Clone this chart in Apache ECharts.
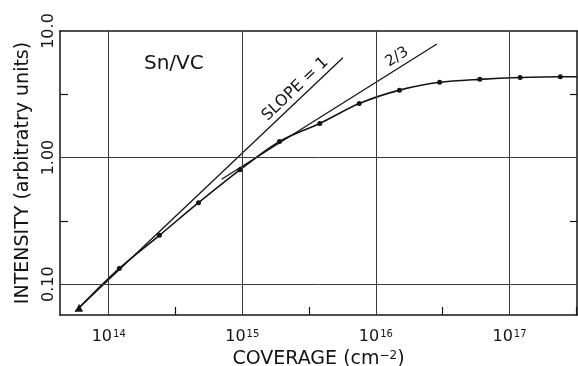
<!DOCTYPE html>
<html>
<head>
<meta charset="utf-8">
<script src="https://cdn.jsdelivr.net/npm/echarts@6/dist/echarts.min.js"></script>
<style>
  html, body { margin: 0; padding: 0; background: #fff; }
  #chart { width: 578px; height: 366px; }
</style>
</head>
<body>
<div id="chart"></div>
<script>
// Sn on VC: signal intensity against tin coverage (log-log)
const coverage  = [6.0e13, 1.2e14, 2.4e14, 4.7e14, 9.6e14, 1.9e15, 3.8e15, 7.5e15, 1.5e16, 3.0e16, 6.0e16, 1.2e17, 2.4e17];
const intensity = [0.065, 0.133, 0.243, 0.44, 0.80, 1.34, 1.86, 2.67, 3.41, 3.93, 4.15, 4.29, 4.35];
// the fitted curve runs on to the right-hand frame
const curveEndX = 3.2e17;
const curveEndY = 4.35;

// reference lines, given by their end points
const slopeOneX = [5.6e13, 5.66e15];
const slopeOneY = [0.0608, 6.15];
const slopeTwoThirdsX = [7.0e14, 2.86e16];
const slopeTwoThirdsY = [0.673, 7.9];

// axes
const xRange = [4.32e13, 3.2e17];
const yRange = [0.057, 10];
const xDecades = [1e14, 1e15, 1e16, 1e17];
const xDecadeExponents = ['14', '15', '16', '17'];
const xHalfDecades = [3.162e14, 3.162e15, 3.162e16, 3.162e17];
const yDecades = [0.1, 1, 10];
const yTickLabels = ['0.10', '1.00', '10.0'];
const yHalfDecades = [0.3162, 3.162];

const FONT = 'DejaVu Sans';
const INK = '#141414';
const GRID_INK = '#3a3a3a';

function matchIndex(list, v) {
  return list.findIndex(d => Math.abs(Math.log10(v / d)) < 1e-6);
}

const chart = echarts.init(document.getElementById('chart'), null, { renderer: 'canvas' });

const curveData = coverage.map((c, i) => {
  const item = { value: [c, intensity[i]] };
  if (i === 0) { item.symbol = 'triangle'; item.symbolSize = 8; }
  return item;
});
curveData.push({ value: [curveEndX, curveEndY], symbol: 'none' });

const frameLine = { show: true, lineStyle: { color: INK, width: 1.5 } };

chart.setOption({
  animation: false,
  backgroundColor: '#fff',
  title: {
    text: 'Sn/VC', left: 144, top: 54, padding: 0,
    textStyle: { fontFamily: FONT, fontSize: 20, fontWeight: 'normal', color: INK }
  },
  grid: { left: 60, right: 1, top: 31, bottom: 51, containLabel: false, outerBoundsMode: 'none' },
  xAxis: [{
    type: 'log', min: xRange[0], max: xRange[1], position: 'bottom',
    axisLine: frameLine,
    axisTick: { show: true, inside: true, length: 8, customValues: xHalfDecades, lineStyle: { color: INK, width: 1.2 } },
    splitLine: { show: false },
    axisLabel: {
      show: true, customValues: xDecades, margin: 14,
      fontFamily: FONT, fontSize: 16, color: INK,
      formatter: v => { const i = matchIndex(xDecades, v); return i < 0 ? '' : '10{sup|' + xDecadeExponents[i] + '}'; },
      rich: { sup: { fontFamily: FONT, fontSize: 10, color: INK, verticalAlign: 'top', padding: [0, 0, 0, 1] } }
    },
    name: 'COVERAGE (cm{sup|\u22122})', nameLocation: 'middle', nameGap: 33,
    nameTextStyle: {
      fontFamily: FONT, fontSize: 19, color: INK,
      rich: { sup: { fontFamily: FONT, fontSize: 12, color: INK, verticalAlign: 'top' } }
    }
  }, {
    type: 'log', min: xRange[0], max: xRange[1], position: 'top',
    axisLine: frameLine, axisTick: { show: false }, axisLabel: { show: false }, splitLine: { show: false }
  }],
  yAxis: [{
    type: 'log', min: yRange[0], max: yRange[1], position: 'left',
    axisLine: frameLine,
    axisTick: { show: true, inside: true, length: 8, customValues: yHalfDecades, lineStyle: { color: INK, width: 1.2 } },
    splitLine: { show: false },
    axisLabel: {
      show: true, customValues: yDecades, rotate: 90, margin: 3,
      fontFamily: FONT, fontSize: 16, color: INK,
      formatter: v => { const i = matchIndex(yDecades, v); return i < 0 ? '' : yTickLabels[i]; }
    },
    name: 'INTENSITY (arbitratry units)', nameLocation: 'middle', nameGap: 27,
    nameTextStyle: { fontFamily: FONT, fontSize: 19, color: INK }
  }, {
    type: 'log', min: yRange[0], max: yRange[1], position: 'right',
    axisLine: frameLine,
    axisTick: { show: true, inside: true, length: 7, customValues: yHalfDecades, lineStyle: { color: INK, width: 1.2 } },
    axisLabel: { show: false }, splitLine: { show: false }
  }],
  series: [{
    // decade grid
    type: 'line', data: [], silent: true,
    markLine: {
      silent: true, symbol: 'none', label: { show: false },
      lineStyle: { color: GRID_INK, width: 1, type: 'solid' },
      data: xDecades.map(v => ({ xAxis: v })).concat(yDecades.filter(v => v < yRange[1]).map(v => ({ yAxis: v })))
    }
  }, {
    name: 'slope 1', type: 'line', symbol: 'none',
    lineStyle: { color: INK, width: 1.3 },
    data: slopeOneX.map((x, i) => [x, slopeOneY[i]])
  }, {
    name: 'slope 2/3', type: 'line', symbol: 'none',
    lineStyle: { color: INK, width: 1.3 },
    data: slopeTwoThirdsX.map((x, i) => [x, slopeTwoThirdsY[i]])
  }, {
    name: 'Sn/VC', type: 'line', smooth: 0.3,
    symbol: 'circle', symbolSize: 5, showAllSymbol: true,
    itemStyle: { color: INK },
    lineStyle: { color: INK, width: 1.6 },
    data: curveData
  }]
});

// Labels that sit along the reference lines
function alongLine(xs, ys, t, text, fontSize, offset) {
  const p0 = chart.convertToPixel({ gridIndex: 0 }, [xs[0], ys[0]]);
  const p1 = chart.convertToPixel({ gridIndex: 0 }, [xs[1], ys[1]]);
  const ax = p0[0] + (p1[0] - p0[0]) * t;
  const ay = p0[1] + (p1[1] - p0[1]) * t;
  const angle = Math.atan2(-(p1[1] - p0[1]), p1[0] - p0[0]);
  return {
    type: 'text', x: ax, y: ay, rotation: angle, silent: true,
    style: {
      text: text, x: 0, y: -offset, align: 'center', verticalAlign: 'middle',
      font: fontSize + 'px "' + FONT + '"', fill: INK
    }
  };
}

chart.setOption({
  graphic: [
    alongLine(slopeOneX, slopeOneY, 0.848, 'SLOPE = 1', 16, 10),
    alongLine(slopeTwoThirdsX, slopeTwoThirdsY, 0.84, '2/3', 15, 10)
  ]
});
</script>
</body>
</html>
